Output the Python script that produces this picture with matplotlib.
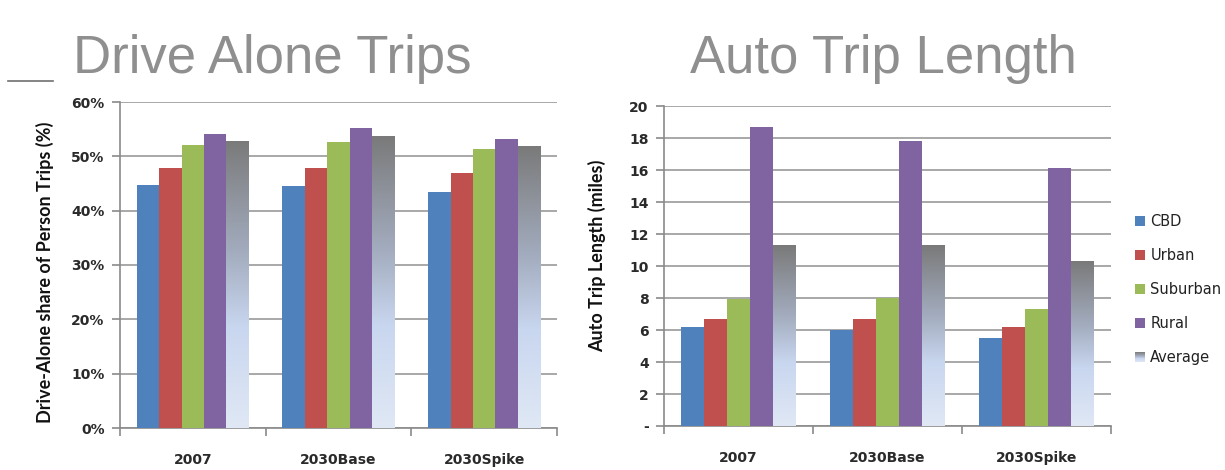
import numpy as np
import matplotlib
matplotlib.use("Agg")
import matplotlib.pyplot as plt
from matplotlib.colors import LinearSegmentedColormap
from matplotlib.patches import Patch, Rectangle
from matplotlib.lines import Line2D
from matplotlib.legend_handler import HandlerBase

categories = ["2007", "2030Base", "2030Spike"]
series = ["CBD", "Urban", "Suburban", "Rural", "Average"]

drive_cbd = [44.8, 44.5, 43.5]
drive_urban = [47.9, 47.9, 46.9]
drive_suburban = [52.1, 52.6, 51.3]
drive_rural = [54.2, 55.3, 53.2]
drive_average = [52.9, 53.7, 51.9]

len_cbd = [6.2, 6.0, 5.5]
len_urban = [6.7, 6.7, 6.2]
len_suburban = [7.95, 8.0, 7.3]
len_rural = [18.7, 17.8, 16.1]
len_average = [11.3, 11.3, 10.3]

left_ticks = [0, 10, 20, 30, 40, 50, 60]
left_ticklabels = ["0%", "10%", "20%", "30%", "40%", "50%", "60%"]
right_ticks = [0, 2, 4, 6, 8, 10, 12, 14, 16, 18, 20]
right_ticklabels = ["-", "2", "4", "6", "8", "10", "12", "14", "16", "18", "20"]

colors = ["#4f81bd", "#c0504d", "#9bbb59", "#8064a2"]
grad = LinearSegmentedColormap.from_list(
    "avg", [(0.0, "#e0e8f5"), (0.35, "#c8d6ef"), (0.62, "#a2abbd"), (1.0, "#7a7a7a")])

TICKFONT = "DejaVu Sans"
fig = plt.figure(figsize=(12.25, 4.7), dpi=100)
fig.patch.set_facecolor("white")


def draw(ax, data, ticks, ticklabels, ylim):
    x = np.arange(len(categories))
    w = 0.154
    for i, vals in enumerate(data):
        off = (i - 2) * w
        if i < 4:
            ax.bar(x + off, vals, w, color=colors[i], zorder=3, linewidth=0)
        else:
            bars = ax.bar(x + off, vals, w, color="none", zorder=3, linewidth=0)
            for b in bars:
                x0, y0 = b.get_x(), b.get_y()
                bw, bh = b.get_width(), b.get_height()
                img = np.linspace(0, 1, 256).reshape(-1, 1)
                im = ax.imshow(img, cmap=grad, origin="lower", aspect="auto",
                               extent=(x0, x0 + bw, y0, y0 + bh), zorder=3)
                im.set_clip_path(b)
    ax.set_xlim(-0.5, 2.5)
    ax.set_ylim(*ylim)
    ax.set_yticks(ticks)
    ax.set_yticklabels(ticklabels, fontfamily=TICKFONT, fontweight="bold", fontsize=10, color="#2a2a2a")
    ax.set_xticks(x)
    ax.set_xticklabels(categories, fontfamily=TICKFONT, fontweight="bold", fontsize=10, color="#2a2a2a")
    ax.set_xticks([-0.5, 0.5, 1.5, 2.5], minor=True)
    ax.tick_params(axis="x", which="major", length=0, pad=18)
    ax.tick_params(axis="x", which="minor", length=6, color="#8a8a8a", width=1.2)
    ax.tick_params(axis="y", length=6, color="#8a8a8a", width=1.2, pad=5)
    ax.grid(axis="y", color="#9a9a9a", linewidth=1.2, zorder=0)
    for s in ["top", "right"]:
        ax.spines[s].set_visible(False)
    for s in ["left", "bottom"]:
        ax.spines[s].set_color("#8a8a8a")
        ax.spines[s].set_linewidth(1.2)


ax1 = fig.add_axes([120 / 1225, 1 - 428 / 470, 437 / 1225, 326 / 470])
draw(ax1, [drive_cbd, drive_urban, drive_suburban, drive_rural, drive_average],
     left_ticks, left_ticklabels, (0, 60))

ax2 = fig.add_axes([664 / 1225, 1 - 426 / 470, 447 / 1225, 320 / 470])
draw(ax2, [len_cbd, len_urban, len_suburban, len_rural, len_average],
     right_ticks, right_ticklabels, (0, 20))

fig.text(45 / 1225, 1 - 272 / 470, "Drive-Alone share of Person Trips (%)", rotation=90,
         ha="center", va="center", fontfamily="Lato", fontweight="bold", fontsize=13, color="#111111")
fig.text(597 / 1225, 1 - 256 / 470, "Auto Trip Length (miles)", rotation=90,
         ha="center", va="center", fontfamily="Lato", fontweight="bold", fontsize=13, color="#111111")


class GradientHandler(HandlerBase):
    def create_artists(self, legend, orig_handle, xdescent, ydescent, width, height, fontsize, trans):
        arts = []
        n = 10
        for k in range(n):
            c = grad(1 - (k + 0.5) / n)
            r = Rectangle((-xdescent, -ydescent + height * (1 - (k + 1) / n)), width, height / n,
                          facecolor=c, edgecolor="none", transform=trans)
            arts.append(r)
        return arts


class AvgHandle:
    pass


handles = [Patch(facecolor=c, edgecolor="none") for c in colors]
avg_handle = AvgHandle()
handles.append(avg_handle)
leg = fig.legend(handles, series, loc="upper left", bbox_to_anchor=(1135 / 1225, 1 - 214 / 470),
                 frameon=False, handlelength=0.7, handleheight=0.7, handletextpad=0.35,
                 labelspacing=1.3, borderpad=0, borderaxespad=0,
                 prop={"family": "DejaVu Sans", "size": 10.5},
                 handler_map={AvgHandle: GradientHandler()})
for t in leg.get_texts():
    t.set_color("#222222")

fig.text(73 / 1225, 1 - 73 / 470, "Drive Alone Trips", fontfamily="Liberation Sans", fontsize=38,
         color="#8f8f8f", va="baseline", ha="left")
fig.text(690 / 1225, 1 - 73 / 470, "Auto Trip Length", fontfamily="Liberation Sans", fontsize=38,
         color="#8f8f8f", va="baseline", ha="left")
fig.add_artist(Line2D([8 / 1225, 53 / 1225], [1 - 81 / 470, 1 - 81 / 470], color="#707070", linewidth=1.2))

fig.savefig("out.png", dpi=100, facecolor="white")
